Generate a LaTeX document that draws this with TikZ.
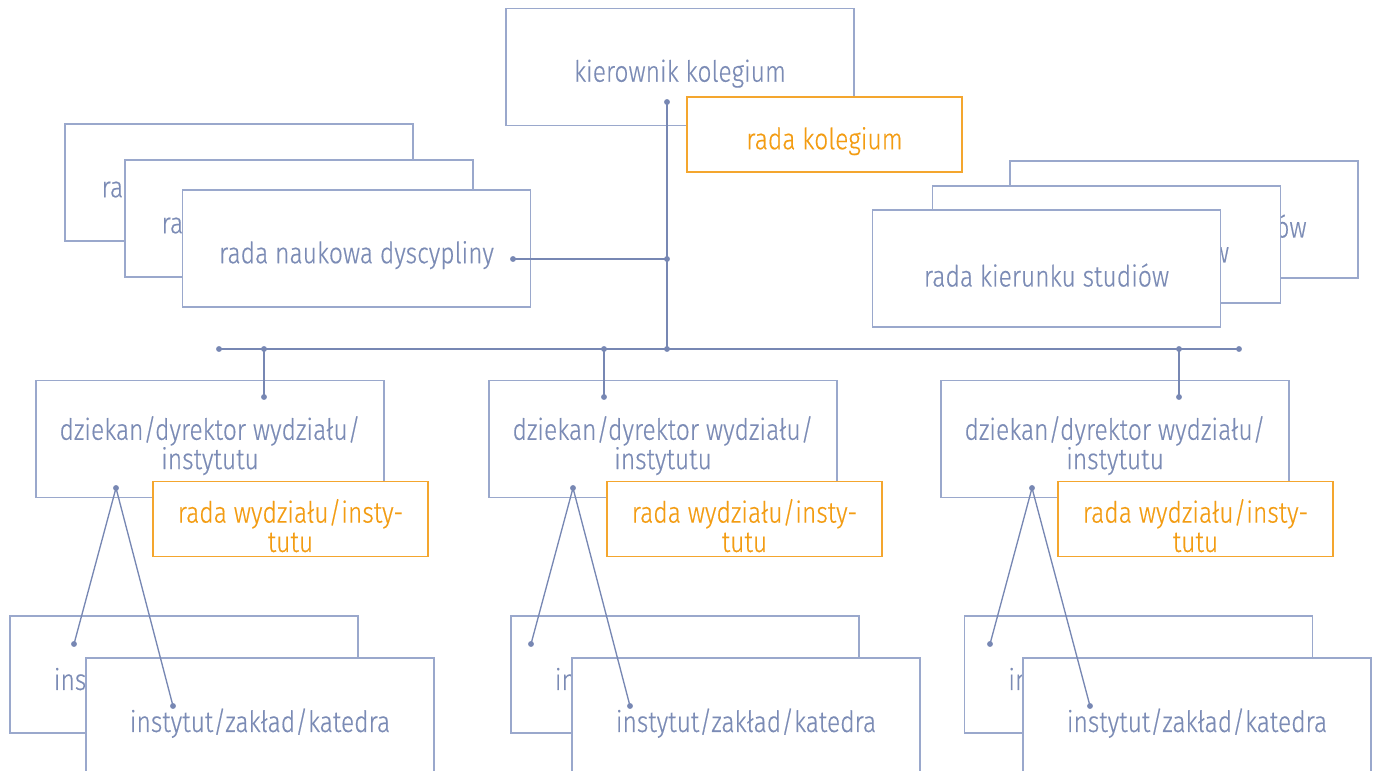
\documentclass[tikz,border=0pt]{standalone}
\usepackage{fontspec}
\setmainfont{Fira Sans}[UprightFont=* Light, UprightFeatures={FakeStretch=0.84, FakeBold=0.4}]
\definecolor{txtblue}{HTML}{7B8BB5}
\definecolor{bordblue}{HTML}{9AA8CC}
\definecolor{linblue}{HTML}{7787B3}
\definecolor{orng}{HTML}{F39C12}
\definecolor{orngb}{HTML}{F4A62E}
\tikzset{
  box/.style={draw=bordblue, line width=0.85pt, fill=white,
    minimum width=261pt, minimum height=87.75pt, inner sep=0pt,
    label={[text=txtblue, align=center, yshift=-5pt, inner sep=0pt,
      font=\fontsize{22}{21}\selectfont]center:#1}},
  obox/.style={draw=orngb, line width=0.85pt, fill=white,
    minimum width=206.25pt, minimum height=56.25pt, inner sep=0pt,
    label={[text=orng, align=center, yshift=-5pt, inner sep=0pt,
      font=\fontsize{22}{22}\selectfont]center:#1}},
  conn/.style={draw=linblue, line width=1pt},
  dot/.style={fill=linblue}
}
\newcommand{\dotat}[1]{\fill[dot] (#1) circle (2.2pt);}
\begin{document}
\begin{tikzpicture}[x=0.75pt,y=-0.75pt]
\useasboundingbox (0,0) rectangle (1376,770);
% top
\node[box={kierownik kolegium}] (kier) at (680,67) {};
\node[obox={rada kolegium}] (radakol) at (824.5,134.5) {};
% left stack
\node[box={rada naukowa dyscypliny}] (L1) at (239,182.5) {};
\node[box={rada naukowa dyscypliny}] (L2) at (299,218.5) {};
\node[box={rada naukowa dyscypliny}] (L3) at (356.5,248.5) {};
% right stack
\node[box={rada kierunku studiów}] (R1) at (1184,219.5) {};
\node[box={rada kierunku studiów}] (R2) at (1106.5,244.5) {};
\node[box={rada kierunku studiów}] (R3) at (1046.5,268.5) {};
% dziekan
\node[box={dziekan/dyrektor wydziału/\\instytutu}] (D1) at (210,439) {};
\node[box={dziekan/dyrektor wydziału/\\instytutu}] (D2) at (663,439) {};
\node[box={dziekan/dyrektor wydziału/\\instytutu}] (D3) at (1115,439) {};
\node[obox={rada wydziału/insty-\\tutu}] (W1) at (290.5,519) {};
\node[obox={rada wydziału/insty-\\tutu}] (W2) at (744.5,519) {};
\node[obox={rada wydziału/insty-\\tutu}] (W3) at (1195.5,519) {};
% instytut
\node[box={instytut/zakład/katedra}] (IB1) at (184,674.5) {};
\node[box={instytut/zakład/katedra}] (IF1) at (260,716.5) {};
\node[box={instytut/zakład/katedra}] (IB2) at (685,674.5) {};
\node[box={instytut/zakład/katedra}] (IF2) at (746,716.5) {};
\node[box={instytut/zakład/katedra}] (IB3) at (1138.5,674.5) {};
\node[box={instytut/zakład/katedra}] (IF3) at (1197,716.5) {};
% connector points
\coordinate (kd) at (667,102);
\coordinate (kj) at (667,259);
\coordinate (ld) at (513,259);
\coordinate (hc) at (667,349);
\coordinate (hl) at (219,349);
\coordinate (hr) at (1239,349);
\coordinate (h1) at (264,349);
\coordinate (d1) at (264,397);
\coordinate (h2) at (604,349);
\coordinate (d2) at (604,397);
\coordinate (h3) at (1179,349);
\coordinate (d3) at (1179,397);
\coordinate (s1) at (116,488);
\coordinate (a1) at (74,644);
\coordinate (b1) at (173,706);
\coordinate (s2) at (573,488);
\coordinate (a2) at (531,644);
\coordinate (b2) at (630,706);
\coordinate (s3) at (1032,488);
\coordinate (a3) at (990,644);
\coordinate (b3) at (1090,706);
% lines
\draw[conn] (kd) -- (hc);
\draw[conn] (ld) -- (kj);
\draw[conn] (hl) -- (hr);
\draw[conn] (h1) -- (d1);
\draw[conn] (h2) -- (d2);
\draw[conn] (h3) -- (d3);
\draw[conn] (a1) -- (s1) -- (b1);
\draw[conn] (a2) -- (s2) -- (b2);
\draw[conn] (a3) -- (s3) -- (b3);
\foreach \p in {kd,kj,ld,hc,hl,hr,h1,d1,h2,d2,h3,d3,s1,a1,b1,s2,a2,b2,s3,a3,b3}{\dotat{\p}}
\end{tikzpicture}
\end{document}
